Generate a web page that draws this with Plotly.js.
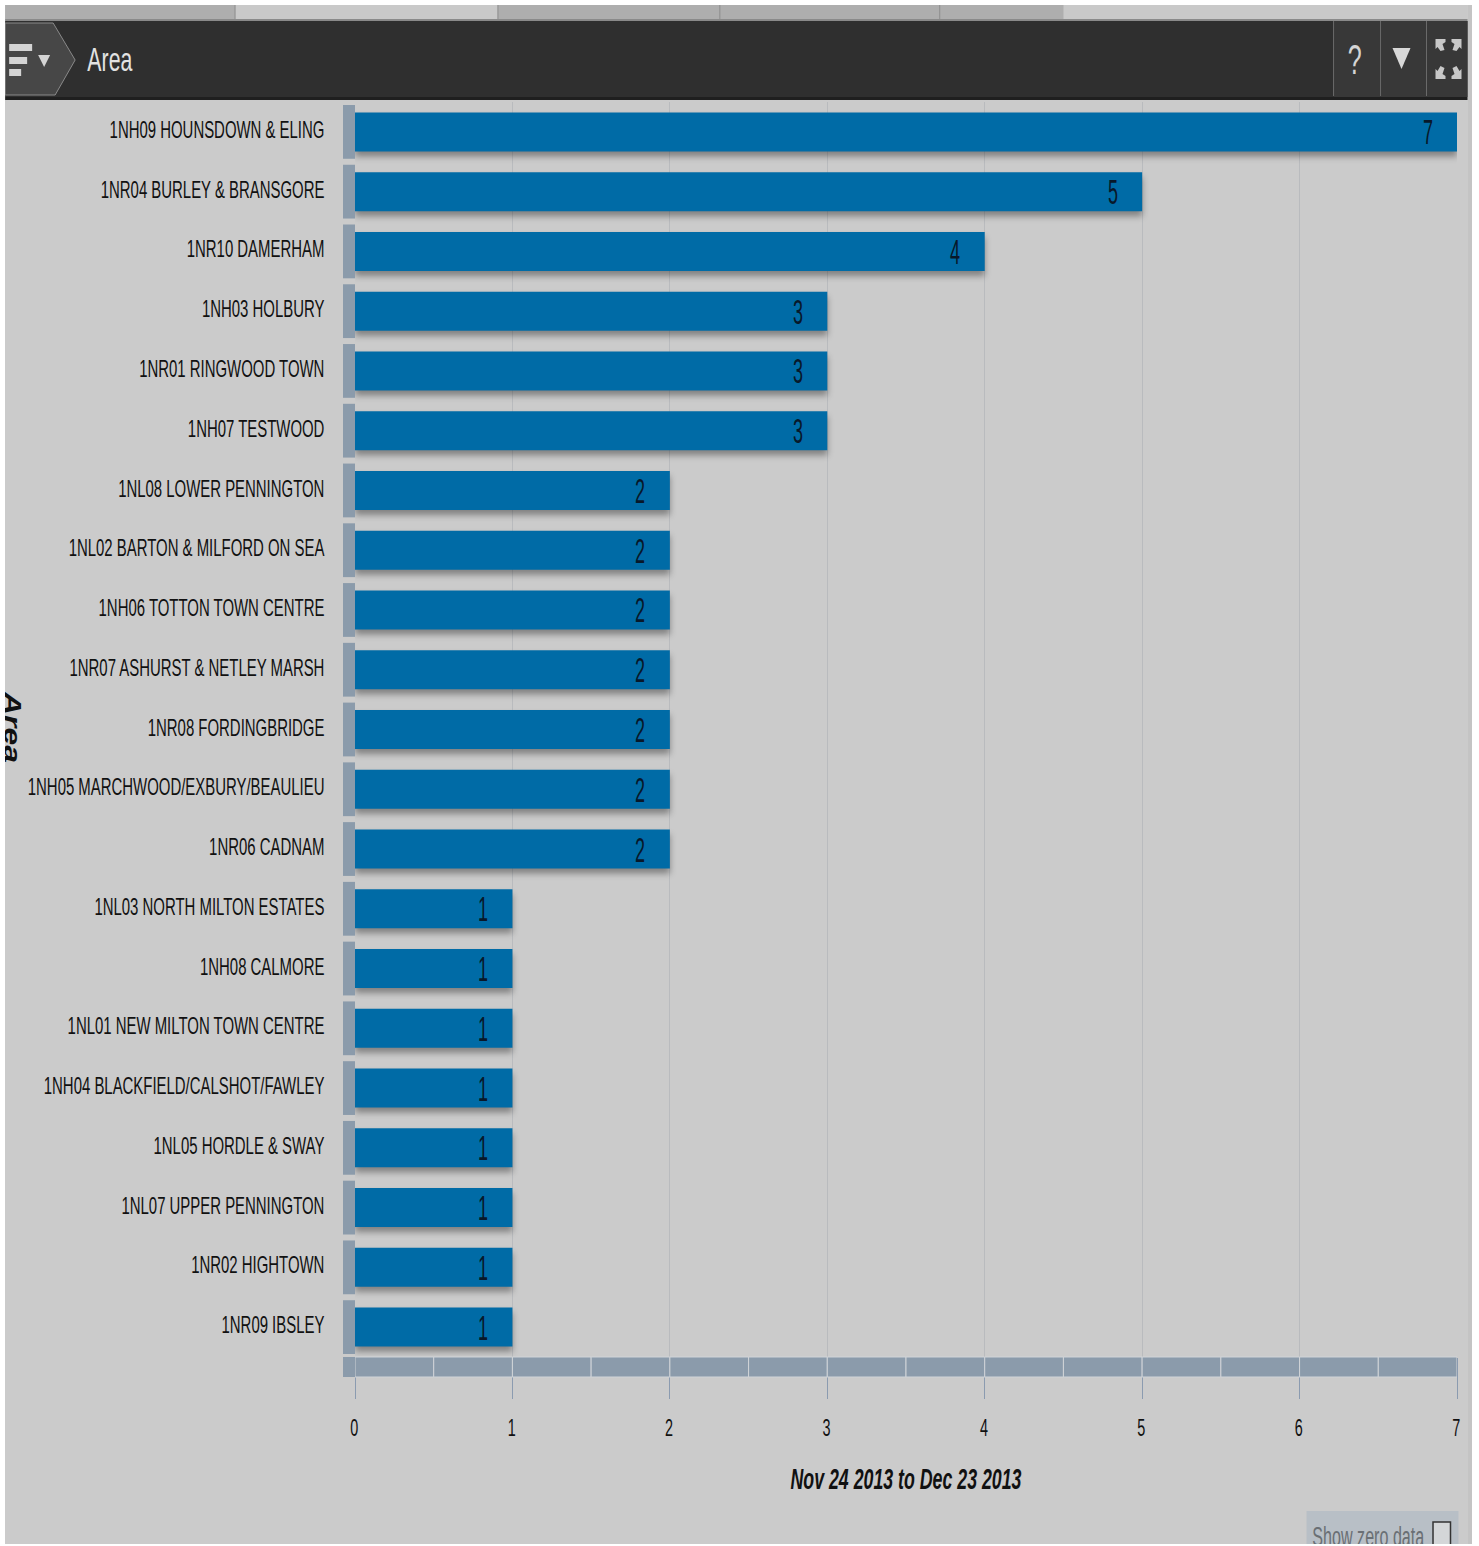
<!DOCTYPE html>
<html><head><meta charset="utf-8">
<script src="https://cdn.plot.ly/plotly-3.0.1.min.js"></script>
<style>
html,body{margin:0;padding:0;background:#fff;overflow:hidden}
#chart{position:absolute;left:0;top:0;width:1468px;height:1544px}
#edge{position:absolute;left:1468px;top:0;width:4px;height:1544px;background:#c4c4c4}
#maskL{position:absolute;left:0;top:0;width:5px;height:1546px;background:#fff}
#maskT{position:absolute;left:0;top:0;width:1479px;height:5px;background:#fff}
.barlayer .point path{filter:drop-shadow(0 5px 3px rgba(0,0,0,.36))}
</style></head><body>
<div id="edge"></div><div id="chart"></div><div id="maskL"></div><div id="maskT"></div>
<script>
const categories = ["1NH09 HOUNSDOWN & ELING","1NR04 BURLEY & BRANSGORE","1NR10 DAMERHAM","1NH03 HOLBURY","1NR01 RINGWOOD TOWN","1NH07 TESTWOOD","1NL08 LOWER PENNINGTON","1NL02 BARTON & MILFORD ON SEA","1NH06 TOTTON TOWN CENTRE","1NR07 ASHURST & NETLEY MARSH","1NR08 FORDINGBRIDGE","1NH05 MARCHWOOD/EXBURY/BEAULIEU","1NR06 CADNAM","1NL03 NORTH MILTON ESTATES","1NH08 CALMORE","1NL01 NEW MILTON TOWN CENTRE","1NH04 BLACKFIELD/CALSHOT/FAWLEY","1NL05 HORDLE & SWAY","1NL07 UPPER PENNINGTON","1NR02 HIGHTOWN","1NR09 IBSLEY"];
const counts = [7,5,4,3,3,3,2,2,2,2,2,2,2,1,1,1,1,1,1,1,1];
const xTicks = [0,1,2,3,4,5,6,7];
const halfSteps = [0,0.5,1,1.5,2,2.5,3,3.5,4,4.5,5,5.5,6,6.5];
const chartTitle = "Area";
const yTitle = "Area";
const xTitle = "Nov 24 2013 to Dec 23 2013";
const zeroLabel = "Show zero data";

const FONT = '"Liberation Sans",Arial,sans-serif';
const L=355,R=1457.5,T=102,B=1357;
const X=p=>(p-L)/(R-L), Y=p=>1-(p-T)/(B-T);
const box=(x0,y0,x1,y1,c)=>({type:'rect',xref:'paper',yref:'paper',x0:X(x0),x1:X(x1),y0:Y(y0),y1:Y(y1),fillcolor:c,line:{width:0},layer:'above'});
const poly=(pts,c,lc,lw)=>({type:'path',xref:'paper',yref:'paper',path:'M'+pts.map(p=>X(p[0])+','+Y(p[1])).join('L')+'Z',fillcolor:c,line:{width:lw||0,color:lc||c},layer:'above'});
const vline=(x,y0,y1,c)=>({type:'line',xref:'paper',yref:'paper',x0:X(x),x1:X(x),y0:Y(y0),y1:Y(y1),line:{width:1,color:c},layer:'above'});
const note=(x,y,text,size,color,extra)=>Object.assign({xref:'paper',yref:'paper',x:X(x),y:Y(y),xanchor:'center',yanchor:'middle',text,showarrow:false,font:{family:FONT,size,color}},extra||{});

const STRIP='#8b9bab';
const shapes=[
 box(5,5,235,19,'#aeaeae'), box(235,5,498,19,'#c9c9c9'), box(498,5,1064,19,'#aeaeae'), box(1064,5,1468,19,'#c9c9c9'),
 vline(235,5,19,'#8c8c8c'), vline(498,5,19,'#8c8c8c'), vline(720,5,19,'#8c8c8c'), vline(940,5,19,'#8c8c8c'),
 box(5,19,1468,21,'#8a8a8a'),
 box(5,21,1468,97,'#2f2f2f'), box(1334,21,1468,97,'#383838'), box(5,97,1468,100,'#1f1f1f'),
 poly([[5,23],[53,23],[75,60],[55,95],[5,95]],'#474747','#8a8a8a',1),
 box(9,44,32,51,'#d4d4d4'), box(9,57,27,64,'#d4d4d4'), box(9,69,21,76,'#d4d4d4'),
 poly([[38,55],[50,55],[44,67]],'#d4d4d4'),
 vline(1334,21,96,'#6a6a6a'), vline(1381,21,96,'#6a6a6a'), vline(1427,21,96,'#6a6a6a'),
 poly([[1393,48],[1411,48],[1402,69]],'#d8d8d8'),
 poly([[1436,39],[1446,39],[1446,42],[1443,44],[1445,50],[1441,51],[1438,47],[1436,49]],'#c8c8c8'),
 poly([[1462,39],[1452,39],[1452,42],[1455,44],[1453,50],[1457,51],[1460,47],[1462,49]],'#c8c8c8'),
 poly([[1436,79],[1446,79],[1446,76],[1443,74],[1445,68],[1441,66],[1438,71],[1436,69]],'#c8c8c8'),
 poly([[1462,79],[1452,79],[1452,76],[1455,74],[1453,68],[1457,66],[1460,71],[1462,69]],'#c8c8c8'),
 box(1307,1511,1459,1544,'#b8bfc6'),
 {type:'rect',xref:'paper',yref:'paper',x0:X(1433.5),x1:X(1451),y0:Y(1522),y1:Y(1546),fillcolor:'#d4d6d8',line:{width:1.5,color:'#333'},layer:'above'},
 box(343,1357,355,1377,STRIP)
];
categories.forEach((c,i)=>shapes.push({type:'rect',xref:'paper',yref:'y',x0:X(343),x1:X(355),y0:i-0.45,y1:i+0.45,fillcolor:STRIP,line:{width:0},layer:'above'}));
halfSteps.forEach(s=>shapes.push({type:'rect',xref:'x',yref:'paper',x0:s,x1:s+0.5,y0:Y(1357),y1:Y(1377),fillcolor:STRIP,line:{width:1,color:'#d0d4d8'},layer:'above'}));

const annotations=[
 note(110,60,chartTitle,33,'#e2e2e2'),
 note(1355,60,'?',42,'#d4d4d4'),
 note(13,727,'<b><i>'+yTitle+'</i></b>',24,'#111',{textangle:90}),
 note(1369,1536,zeroLabel,28,'#6a6f74')
];
categories.forEach((c,i)=>annotations.push({x:counts[i],y:i,xref:'x',yref:'y',xshift:-29.5,yshift:0,text:String(counts[i]),showarrow:false,font:{family:FONT,size:36,color:'#08182a'}}));

function squash(el,sx,dx,dy){
  const ax=parseFloat(el.getAttribute('x'))||0;
  const t=el.getAttribute('transform')||'';
  el.setAttribute('transform',`${t} translate(${(dx||0)+ax},${dy||0}) scale(${sx},1) translate(${-ax},0)`);
}

Plotly.newPlot('chart',[{
 type:'bar',orientation:'h',x:counts,y:categories.map((c,i)=>i),width:39/59.76,
 marker:{color:'#006ba6',line:{width:0}},hoverinfo:'skip'
}],{
 width:1468,height:1544,margin:{l:L,r:1468-R,t:T,b:1544-B,pad:0},
 paper_bgcolor:'#cbcbcb',plot_bgcolor:'#cbcbcb',showlegend:false,
 xaxis:{range:[0,7],tickmode:'array',tickvals:xTicks,ticktext:xTicks.map(String),showgrid:true,gridcolor:'#b9bbbe',gridwidth:1,zeroline:false,
   ticks:'outside',ticklen:41,tickwidth:1,tickcolor:'#8b9bb0',ticklabelstandoff:8,showline:false,
   tickfont:{family:FONT,size:24,color:'#111'},
   title:{text:'<b><i>'+xTitle+'</i></b>',standoff:28,font:{family:FONT,size:30,color:'#111'}}},
 yaxis:{range:[20.5,-0.5],tickmode:'array',tickvals:categories.map((c,i)=>i),ticktext:categories,showgrid:false,zeroline:false,
   ticks:'outside',ticklen:25,tickcolor:'rgba(0,0,0,0)',showline:false,
   tickfont:{family:FONT,size:23,color:'#111'}},
 shapes,annotations
},{staticPlot:true,displayModeBar:false}).then(gd=>{
  const yt=[...gd.querySelectorAll('.ytick text')];
  const sy=215/yt[0].getComputedTextLength();
  yt.forEach(e=>squash(e,sy,0,-2));
  gd.querySelectorAll('.xtick text').forEach(e=>squash(e,0.6,-0.8,0));
  const xt=gd.querySelector('.xtitle'); squash(xt,231/xt.getComputedTextLength(),0,0);
  const at=[...gd.querySelectorAll('.annotation-text')];
  [45,14,71,112].forEach((w,i)=>squash(at[i],w/at[i].getComputedTextLength()));
  at.slice(4).forEach(e=>squash(e,0.5));
});
</script></body></html>
